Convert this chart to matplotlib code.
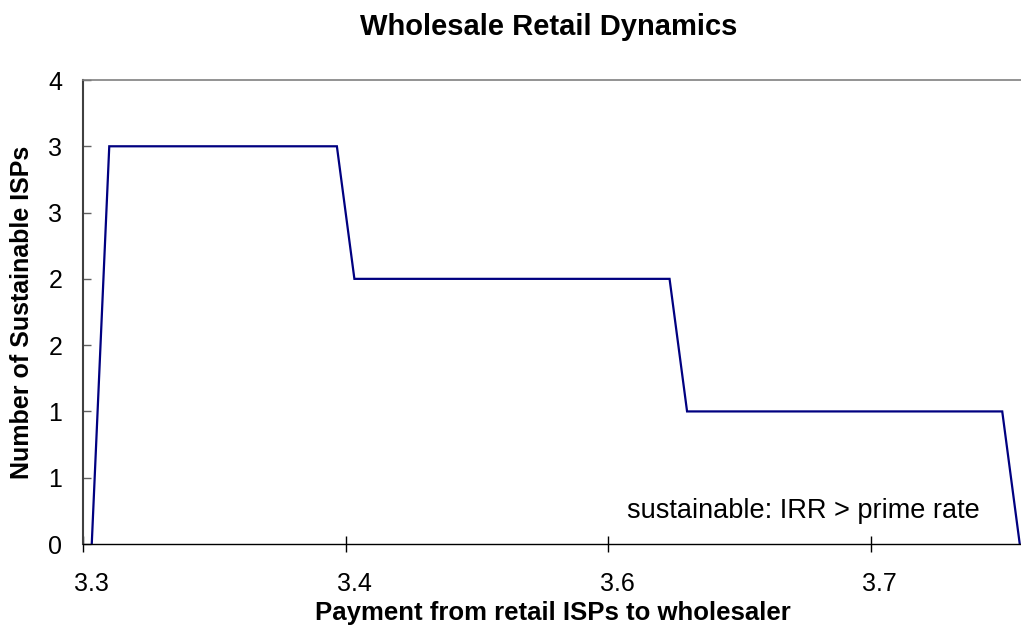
import numpy as np
import matplotlib
matplotlib.use('Agg')
import matplotlib.pyplot as plt
from matplotlib.ticker import FixedLocator, NullFormatter

plt.rcParams['font.family'] = ['Liberation Sans', 'DejaVu Sans']

# payment categories (Excel category axis), one per point
payment = [3.300, 3.309, 3.318, 3.327, 3.336, 3.345, 3.354, 3.363, 3.372, 3.381,
           3.390, 3.399, 3.408, 3.417, 3.426, 3.435, 3.444, 3.453, 3.462, 3.471,
           3.480, 3.489, 3.498, 3.507, 3.516, 3.525, 3.534, 3.543, 3.552, 3.561,
           3.570, 3.579, 3.588, 3.597, 3.606, 3.615, 3.624, 3.633, 3.642, 3.651,
           3.660, 3.669, 3.678, 3.687, 3.696, 3.705, 3.714, 3.723, 3.732, 3.741,
           3.750, 3.759, 3.768, 3.777]
sustainable = [0,
               3, 3, 3, 3, 3, 3, 3, 3, 3, 3, 3, 3, 3, 3,
               2, 2, 2, 2, 2, 2, 2, 2, 2, 2, 2, 2, 2, 2, 2, 2, 2, 2, 2,
               1, 1, 1, 1, 1, 1, 1, 1, 1, 1, 1, 1, 1, 1, 1, 1, 1, 1, 1,
               0]
y_ticks = [0, 0.5, 1, 1.5, 2, 2.5, 3, 3.5]
y_tick_labels = ['0', '1', '1', '2', '2', '3', '3', '4']
label_every = 15

W, H = 1021, 628
fig = plt.figure(figsize=(W / 100, H / 100), dpi=100)
# plot area runs past the right edge of the picture (cropped in the original)
ax = fig.add_axes([83 / W, 1 - 544 / H, 945.5 / W, 464 / H])

idx = np.arange(len(payment))
ax.plot(idx, sustainable, color='#000080', lw=1.6, solid_joinstyle='miter')

ax.set_xlim(-0.5, len(payment) - 0.5)
ax.set_ylim(0, 3.5)

# category boundaries get the tick marks, category centres get the labels
ax.xaxis.set_major_locator(FixedLocator(np.arange(-0.5, len(payment), label_every)))
ax.xaxis.set_major_formatter(NullFormatter())
lab_pos = idx[::label_every]
ax.xaxis.set_minor_locator(FixedLocator(lab_pos))
ax.set_xticklabels(['%.1f' % payment[i] for i in lab_pos], minor=True)
ax.tick_params(axis='x', which='major', direction='inout', length=11, width=1, color='black')
ax.tick_params(axis='x', which='minor', length=0, pad=20, labelsize=18)

ax.set_yticks(y_ticks)
ax.set_yticklabels(y_tick_labels)
ax.tick_params(axis='y', direction='in', length=5.5, width=1, color='#606060',
               pad=15, labelsize=18)

for side in ['top', 'right']:
    ax.spines[side].set_color('#808080')
    ax.spines[side].set_linewidth(1.2)
ax.spines['left'].set_color('#404040')
ax.spines['left'].set_linewidth(1.5)
ax.spines['bottom'].set_color('black')
ax.spines['bottom'].set_linewidth(1.0)

ax.set_xlabel('Payment from retail ISPs to wholesaler', fontsize=18.5, fontweight='bold',
              va='center')
ax.xaxis.set_label_coords(470 / 945.5, -69 / 464)
ax.set_ylabel('Number of Sustainable ISPs', fontsize=18, fontweight='bold', va='center')
ax.yaxis.set_label_coords(-61 / 945.5, 0.5)

ax.text(720 / 945.5, 33 / 464, 'sustainable: IRR > prime rate', transform=ax.transAxes,
        ha='center', va='center', fontsize=19.5)

fig.text(549 / W, 1 - 27 / H, 'Wholesale Retail Dynamics', ha='center', va='center',
         fontsize=21, fontweight='bold')

fig.savefig('out.png', dpi=100)
